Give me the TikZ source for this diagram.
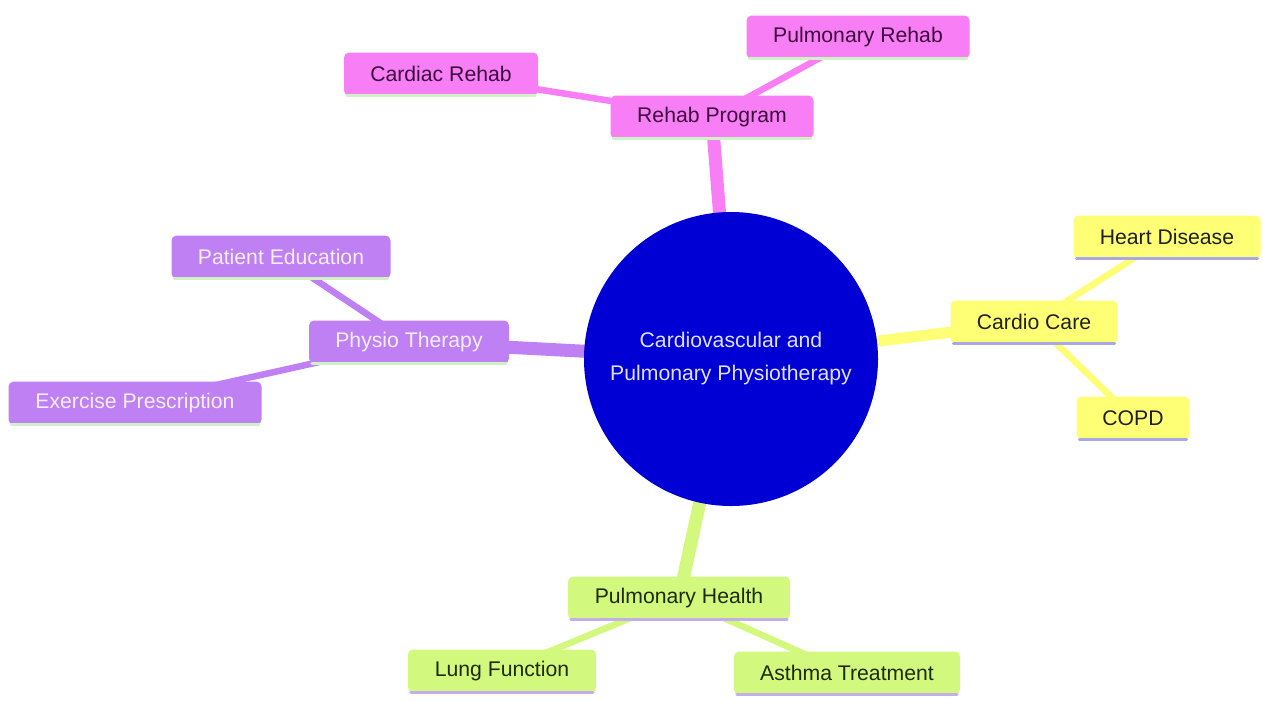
\documentclass[tikz,border=0pt]{standalone}
\usepackage{fontspec}
\setmainfont{Liberation Sans}
\usetikzlibrary{backgrounds}
\definecolor{rootc}{HTML}{0000D4}
\definecolor{pinkc}{HTML}{F77EF4}
\definecolor{yelc}{HTML}{FFFF76}
\definecolor{purc}{HTML}{BE80F2}
\definecolor{grnc}{HTML}{D3F87E}
\definecolor{pinktx}{HTML}{3E0B3E}
\definecolor{yeltx}{HTML}{202020}
\definecolor{purtx}{HTML}{F6EEFF}
\definecolor{grntx}{HTML}{1E2A08}
\definecolor{lgreen}{HTML}{CFF2C4}
\definecolor{lav}{HTML}{A8A8E6}
\definecolor{lav2}{HTML}{C3AEEA}
\tikzset{
  x=1pt,y=-1pt,
  mm/.style={rounded corners=5pt, inner xsep=20pt, inner ysep=0pt, minimum height=43pt, font=\fontsize{21.2}{25}\selectfont},
  pinkbox/.style={mm, fill=pinkc, text=pinktx},
  yelbox/.style={mm, fill=yelc, text=yeltx},
  purbox/.style={mm, fill=purc, text=purtx},
  grnbox/.style={mm, fill=grnc, text=grntx},
  lone/.style={line width=13pt},
  ltwo/.style={line width=6.5pt},
  bline/.style={line width=3pt, line cap=round}
}
\newcommand{\mmbottom}[2]{\draw[bline,#2] ([xshift=3pt]#1.south west) -- ([xshift=-3pt]#1.south east);}
\begin{document}
\begin{tikzpicture}
\useasboundingbox (0,0) rectangle (1263,702);
% nodes
\node[pinkbox, minimum width=203pt] (rehab) at (712,117) {Rehab Program};
\node[pinkbox, minimum width=194pt] (cardrehab) at (441,74) {Cardiac Rehab};
\node[pinkbox, minimum width=223pt] (pulmrehab) at (858,37) {Pulmonary Rehab};
\node[yelbox, minimum width=167pt] (cardio) at (1034,322) {Cardio Care};
\node[yelbox, minimum width=187pt] (heart) at (1167,237) {Heart Disease};
\node[yelbox, minimum width=113pt] (copd) at (1133,418) {COPD};
\node[purbox, minimum width=200pt] (physio) at (409,342) {Physio Therapy};
\node[purbox, minimum width=219pt] (patient) at (281,257) {Patient Education};
\node[purbox, minimum width=253pt] (exercise) at (135,403) {Exercise Prescription};
\node[grnbox, minimum width=222pt] (pulmh) at (679,598) {Pulmonary Health};
\node[grnbox, minimum width=188pt] (lung) at (502,671) {Lung Function};
\node[grnbox, minimum width=226pt] (asthma) at (847,673) {Asthma Treatment};
\node[circle, fill=rootc, minimum size=294pt, inner sep=0pt, text=white!88!blue, align=center, font=\fontsize{21.2}{33}\selectfont] (root) at (731,359) {Cardiovascular and\\Pulmonary Physiotherapy};
% bottom lines
\mmbottom{rehab}{lgreen}
\mmbottom{cardrehab}{lgreen}
\mmbottom{pulmrehab}{lgreen}
\mmbottom{cardio}{lav}
\mmbottom{heart}{lav}
\mmbottom{copd}{lav}
\mmbottom{physio}{lgreen}
\mmbottom{patient}{lgreen}
\mmbottom{exercise}{lgreen}
\mmbottom{pulmh}{lav2}
\mmbottom{lung}{lav2}
\mmbottom{asthma}{lav2}
% edges
\begin{scope}[on background layer]
\draw[lone, pinkc] (root.center) -- (rehab.center);
\draw[lone, yelc, line width=11pt] (root.center) -- (cardio.center);
\draw[lone, purc] (root.center) -- (physio.center);
\draw[lone, grnc] (root.center) -- (pulmh.center);
\draw[ltwo, pinkc] (rehab.center) -- (cardrehab.center);
\draw[ltwo, pinkc] (rehab.center) -- (pulmrehab.center);
\draw[ltwo, yelc] (cardio.center) -- (heart.center);
\draw[ltwo, yelc] (cardio.center) -- (copd.center);
\draw[ltwo, purc] (physio.center) -- (patient.center);
\draw[ltwo, purc] (physio.center) -- (exercise.center);
\draw[ltwo, grnc] (pulmh.center) -- (lung.center);
\draw[ltwo, grnc] (pulmh.center) -- (asthma.center);
\end{scope}
\end{tikzpicture}
\end{document}
